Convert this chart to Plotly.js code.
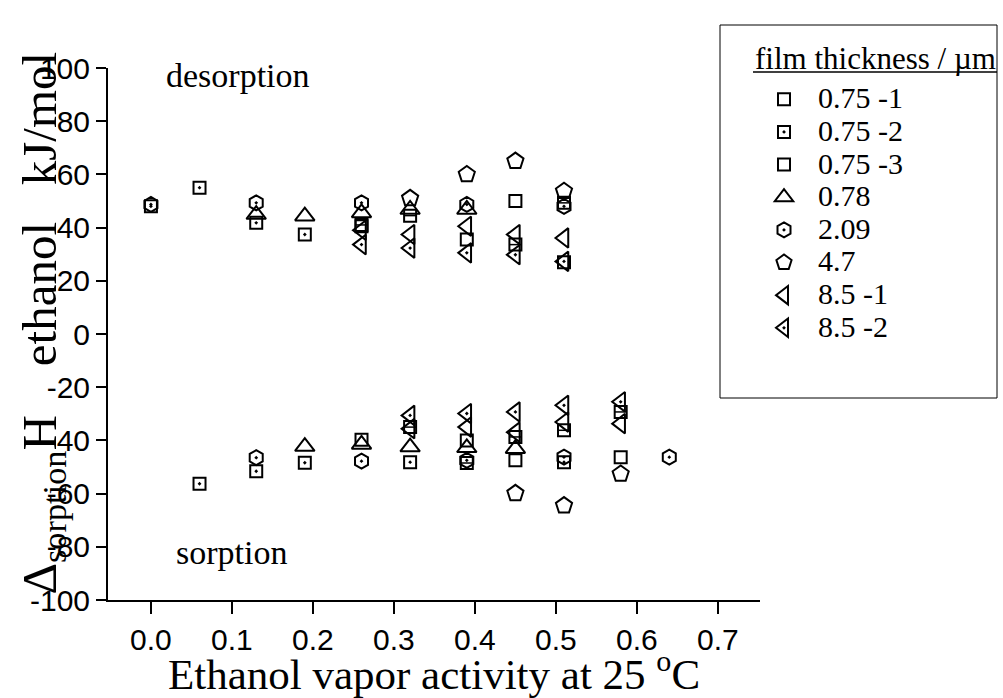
<!DOCTYPE html>
<html><head><meta charset="utf-8">
<script src="https://cdn.plot.ly/plotly-3.0.1.min.js"></script>
<style>html,body{margin:0;padding:0;background:#fff}#chart{width:1003px;height:698px}</style>
</head><body><div id="chart"></div><script>
// Series names (film thickness / µm)
const seriesNames = ["0.75 -1", "0.75 -2", "0.75 -3", "0.78", "2.09", "4.7", "8.5 -1", "8.5 -2"];
const legendTitle = "film thickness / µm";
// Ethanol vapor activity (x) and enthalpy kJ/mol (y); positive = desorption, negative = sorption
const x075_1 = [0.26, 0.39, 0.45, 0.51, 0.26, 0.39, 0.45, 0.58];
const y075_1 = [40.5, 35.5, 50, 27, -39.8, -40, -47.5, -46.3];
const x075_2 = [0, 0.06, 0.13, 0.19, 0.06, 0.13, 0.19, 0.32, 0.51];
const y075_2 = [48, 55, 41.8, 37.4, -56.3, -51.6, -48.4, -48.2, -48.2];
const x075_3 = [0.26, 0.32, 0.45, 0.51, 0.32, 0.39, 0.45, 0.51, 0.58];
const y075_3 = [41, 44.5, 33.6, 49.3, -35, -48.5, -38.7, -36.2, -29.3];
const x078 = [0.13, 0.19, 0.26, 0.32, 0.39, 0.19, 0.26, 0.32, 0.39, 0.45];
const y078 = [44.9, 44.3, 45.5, 46.8, 46.8, -42.3, -41.5, -42.5, -42.8, -43.1];
const x209 = [0, 0.13, 0.26, 0.39, 0.51, 0.13, 0.26, 0.39, 0.51, 0.64];
const y209 = [48.7, 49.3, 49.3, 48.7, 48, -46.5, -47.8, -47.5, -46.3, -46.3];
const x47 = [0.32, 0.39, 0.45, 0.51, 0.45, 0.51, 0.58];
const y47 = [51, 60, 65, 53.7, -59.9, -64.5, -52.6];
const x85_1 = [0.26, 0.32, 0.39, 0.45, 0.51, 0.32, 0.39, 0.45, 0.51, 0.58];
const y85_1 = [39, 37.4, 40.5, 37.4, 36.1, -35.6, -35, -36.9, -33.1, -33.7];
const x85_2 = [0.26, 0.32, 0.39, 0.45, 0.51, 0.32, 0.39, 0.45, 0.51, 0.58];
const y85_2 = [33.6, 32.3, 30.5, 29.8, 27.3, -30.6, -29.9, -29.3, -26.8, -25.5];

const xTicks = [0, 0.1, 0.2, 0.3, 0.4, 0.5, 0.6, 0.7];
const xTickText = ["0.0", "0.1", "0.2", "0.3", "0.4", "0.5", "0.6", "0.7"];
const yTicks = [-100, -80, -60, -40, -20, 0, 20, 40, 60, 80, 100];
const yTickText = ["-100", "-80", "-60", "-40", "-20", "0", "20", "40", "60", "80", "100"];

const serif = "Liberation Serif, Times New Roman, serif";
const sans = "Liberation Sans, Arial, sans-serif";

function tr(x, y, name, symbol, size, extra) {
  return Object.assign({
    type: "scatter", mode: "markers", x: x, y: y,
    name: '<span style="font-size:30px">' + name + '</span>',
    marker: {symbol: symbol, size: size, color: "black", line: {color: "black", width: 2}},
    cliponaxis: false
  }, extra || {});
}

const data = [
  tr(x075_1, y075_1, seriesNames[0], "square-open", 12),
  tr(x075_2, y075_2, seriesNames[1], "square-open-dot", 12),
  tr(x075_3, y075_3, seriesNames[2], "square-open", 12),
  tr(x078, y078, seriesNames[3], "triangle-up-open", 17),
  tr(x209, y209, seriesNames[4], "hexagon-open-dot", 15),
  tr(x47, y47, seriesNames[5], "pentagon-open", 17),
  tr(x85_1, y85_1, seriesNames[6], "triangle-left-open", 17),
  tr(x85_2, y85_2, seriesNames[7], "triangle-left-open-dot", 17),
  tr(x075_3, y075_3, seriesNames[2], "line-ew-open", 8.6, {showlegend: false, marker: {symbol: "line-ew-open", size: 8.6, color: "black", line: {color: "black", width: 1.5}}})
];

const L = 108, R = 243, T = 68, B = 98, W = 1003, H = 698;
const pw = W - L - R, ph = H - T - B;
function px(xp) { return (xp - L) / pw; }
function py(yp) { return (H - B - yp) / ph; }

const layout = {
  width: W, height: H,
  margin: {l: L, r: R, t: T, b: B, pad: 0, autoexpand: false},
  paper_bgcolor: "white", plot_bgcolor: "white",
  showlegend: true,
  xaxis: {
    range: [-0.053, 0.752], tickvals: xTicks, ticktext: xTickText,
    showgrid: false, zeroline: false, showline: true, linecolor: "black", linewidth: 2,
    ticks: "outside", ticklen: 12, tickwidth: 2, tickcolor: "black",
    tickfont: {family: sans, size: 30, color: "black"},
    title: {text: "Ethanol vapor activity at 25 <sup>o</sup>C", font: {family: serif, size: 43, color: "black"}, standoff: 0}
  },
  yaxis: {
    range: [-100, 100], tickvals: yTicks, ticktext: yTickText,
    showgrid: false, zeroline: false, showline: true, linecolor: "black", linewidth: 2,
    ticks: "outside", ticklen: 10, tickwidth: 2, tickcolor: "black",
    tickfont: {family: sans, size: 30, color: "black"}
  },
  legend: {
    x: px(750), y: py(78), xanchor: "left", yanchor: "top",
    bgcolor: "rgba(0,0,0,0)", borderwidth: 0,
    font: {family: serif, size: 22.8, color: "black"},
    itemwidth: 58
  },
  shapes: [
    {type: "rect", xref: "paper", yref: "paper", x0: px(720), x1: px(997), y0: py(398), y1: py(25), line: {color: "black", width: 1}},
    {type: "line", xref: "paper", yref: "paper", x0: px(753), x1: px(997), y0: py(72), y1: py(72), line: {color: "black", width: 1.5}}
  ],
  annotations: [
    {xref: "paper", yref: "paper", x: px(753), y: py(58.5), xanchor: "left", yanchor: "middle", text: legendTitle, showarrow: false, font: {family: serif, size: 31, color: "black"}},
    {xref: "x", yref: "y", x: 0.107, y: 97, text: "desorption", showarrow: false, font: {family: serif, size: 34, color: "black"}},
    {xref: "x", yref: "y", x: 0.099, y: -82, text: "sorption", showarrow: false, font: {family: serif, size: 34, color: "black"}},
    {xref: "paper", yref: "paper", x: px(9), y: py(323), textangle: -90, showarrow: false,
     text: "Δ<sub>sorption</sub>H\u00A0\u00A0\u00A0\u00A0ethanol\u00A0\u00A0\u00A0kJ/mol",
     font: {family: serif, size: 49, color: "black"}}
  ]
};

Plotly.newPlot("chart", data, layout, {displayModeBar: false, staticPlot: true});
</script></body></html>
